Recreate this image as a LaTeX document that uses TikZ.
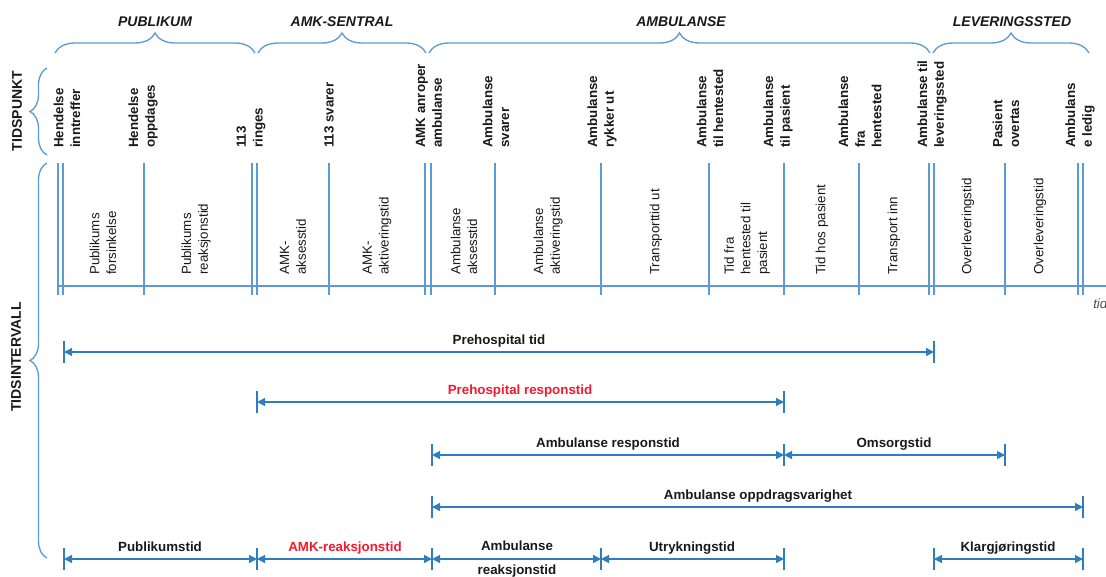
\documentclass[tikz,border=0pt]{standalone}
\usepackage{fontspec}
\setmainfont{Liberation Sans}
\usetikzlibrary{arrows.meta,decorations.pathreplacing}
\definecolor{lblue}{RGB}{91,155,213}
\definecolor{dblue}{RGB}{46,125,190}
\definecolor{lred}{RGB}{245,25,45}
\definecolor{txt}{RGB}{25,25,25}
\tikzset{
  tl/.style={lblue, line width=1pt},
  axisline/.style={lblue, line width=1.2pt},
  br/.style={lblue, line width=1pt, decorate},
  tp/.style={rotate=90, anchor=west, align=left, inner sep=0pt, text=txt,
    font=\bfseries\fontsize{10}{12.5}\selectfont},
  iv/.style={rotate=90, anchor=west, align=left, inner sep=0pt, text=txt,
    font=\fontsize{10}{12.5}\selectfont},
  grp/.style={inner sep=0pt, text=txt, font=\bfseries\itshape\fontsize{10.5}{12}\selectfont},
  side/.style={rotate=90, inner sep=0pt, text=txt, font=\bfseries\fontsize{10.5}{12}\selectfont},
  lab/.style={anchor=base, inner sep=0pt, text=txt, font=\bfseries\fontsize{10}{12.5}\selectfont},
  redlab/.style={lab, text=lred},
  dim/.style={dblue, line width=1pt, {Triangle[length=6pt,width=6pt]}-{Triangle[length=6pt,width=6pt]}},
  tick/.style={dblue, line width=1pt},
}
\begin{document}
\begin{tikzpicture}[x=0.75pt,y=0.75pt]
\useasboundingbox (0,0) rectangle (1106,-576);

% group braces (top)
\draw[br, decoration={brace, amplitude=15pt}] (55,-53) -- (255,-53);
\draw[br, decoration={brace, amplitude=15pt}] (258,-53) -- (426,-53);
\draw[br, decoration={brace, amplitude=15pt}] (429,-53) -- (930,-53);
\draw[br, decoration={brace, amplitude=15pt}] (933,-53) -- (1089,-53);
\node[grp] (gPub) at (155,-22) {PUBLIKUM};
\node[grp] (gAmk) at (342,-22) {AMK-SENTRAL};
\node[grp] (gAmb) at (681,-22) {AMBULANSE};
\node[grp] (gLev) at (1012,-22) {LEVERINGSSTED};

% side braces
\draw[br, decoration={brace, amplitude=12.75pt}] (47,-155) -- (47,-68);
\draw[br, decoration={brace, amplitude=12.75pt}] (47,-558) -- (47,-163);
\node[side] (sTp) at (17,-111) {TIDSPUNKT};
\node[side] (sTi) at (16,-357) {TIDSINTERVALL};

% time points
\node[tp] (t1) at (67,-148) {Hendelse\\inntreffer};
\node[tp] (t2) at (143,-148) {Hendelse\\oppdages};
\node[tp] (t3) at (251,-148) {113\\ringes};
\node[tp] (t4) at (329,-148) {113 svarer};
\node[tp] (t5) at (429,-148) {AMK anroper\\ambulanse};
\node[tp] (t6) at (496,-148) {Ambulanse\\svarer};
\node[tp] (t7) at (602,-148) {Ambulanse\\rykker ut};
\node[tp] (t8) at (710,-148) {Ambulanse\\til hentested};
\node[tp] (t9) at (778,-148) {Ambulanse\\til pasient};
\node[tp] (t10) at (860,-148) {Ambulanse\\fra\\hentested};
\node[tp] (t11) at (932,-148) {Ambulanse til\\leveringssted};
\node[tp] (t12) at (1006,-148) {Pasient\\overtas};
\node[tp] (t13) at (1080,-148) {Ambulans\\e ledig};

% timeline
\foreach \x in {58,63,144,252,257,329,425,431,495,601,709,784,859,929,934,1005,1078,1083}
  \draw[tl] (\x,-163) -- (\x,-295);
\draw[axisline] (58,-286) -- (1110,-286);
\node[anchor=base west, inner sep=0pt, text=black!70, font=\itshape\fontsize{10}{12}\selectfont] (tid) at (1093,-308) {tid};

% interval labels
\node[iv] (i1) at (103,-275) {Publikums\\forsinkelse};
\node[iv] (i2) at (196,-275) {Publikums\\reaksjonstid};
\node[iv] (i3) at (293,-275) {AMK-\\aksesstid};
\node[iv] (i4) at (377,-275) {AMK-\\aktiveringstid};
\node[iv] (i5) at (464,-275) {Ambulanse\\aksesstid};
\node[iv] (i6) at (548,-275) {Ambulanse\\aktiveringstid};
\node[iv] (i7) at (656,-275) {Transporttid ut};
\node[iv] (i8) at (747,-275) {Tid fra\\hentested til\\pasient};
\node[iv] (i9) at (822,-275) {Tid hos pasient};
\node[iv] (i10) at (894,-275) {Transport inn};
\node[iv] (i11) at (968,-275) {Overleveringstid};
\node[iv] (i12) at (1040,-275) {Overleveringstid};

% interval coordinates
\coordinate (A1) at (64,-352);  \coordinate (A2) at (934,-352);
\coordinate (B1) at (257,-402); \coordinate (B2) at (784,-402);
\coordinate (C1) at (432,-455); \coordinate (C2) at (784,-455); \coordinate (C3) at (1005,-455);
\coordinate (D1) at (432,-507); \coordinate (D2) at (1083,-507);
\coordinate (E1) at (64,-559);  \coordinate (E2) at (257,-559); \coordinate (E3) at (432,-559);
\coordinate (E4) at (601,-559); \coordinate (E5) at (784,-559); \coordinate (E6) at (934,-559);
\coordinate (E7) at (1083,-559);

\foreach \c in {A1,A2,B1,B2,C1,C2,C3,D1,D2,E1,E2,E3,E4,E5,E6,E7}
  \draw[tick] ([yshift=8.5pt]\c) -- ([yshift=-8.5pt]\c);

\draw[dim] (A1) -- (A2);
\draw[dim] (B1) -- (B2);
\draw[dim] (C1) -- (C2);
\draw[dim] (C2) -- (C3);
\draw[dim] (D1) -- (D2);
\draw[dim] (E1) -- (E2);
\draw[dim] (E2) -- (E3);
\draw[dim] (E3) -- (E4);
\draw[dim] (E4) -- (E5);
\draw[dim] (E6) -- (E7);

\node[lab] (l1) at (499,-344) {Prehospital tid};
\node[redlab] (l2) at (520,-394) {Prehospital responstid};
\node[lab] (l3) at (608,-447) {Ambulanse responstid};
\node[lab] (l4) at (894,-447) {Omsorgstid};
\node[lab] (l5) at (758,-499) {Ambulanse oppdragsvarighet};
\node[lab] (l6) at (160,-551) {Publikumstid};
\node[redlab] (l7) at (345,-551) {AMK-reaksjonstid};
\node[lab, anchor=center, align=center] (l8) at (517,-559) {Ambulanse\\[5.5pt]reaksjonstid};
\node[lab] (l9) at (692,-551) {Utrykningstid};
\node[lab] (l10) at (1008,-551) {Klargjøringstid};
\end{tikzpicture}
\end{document}
